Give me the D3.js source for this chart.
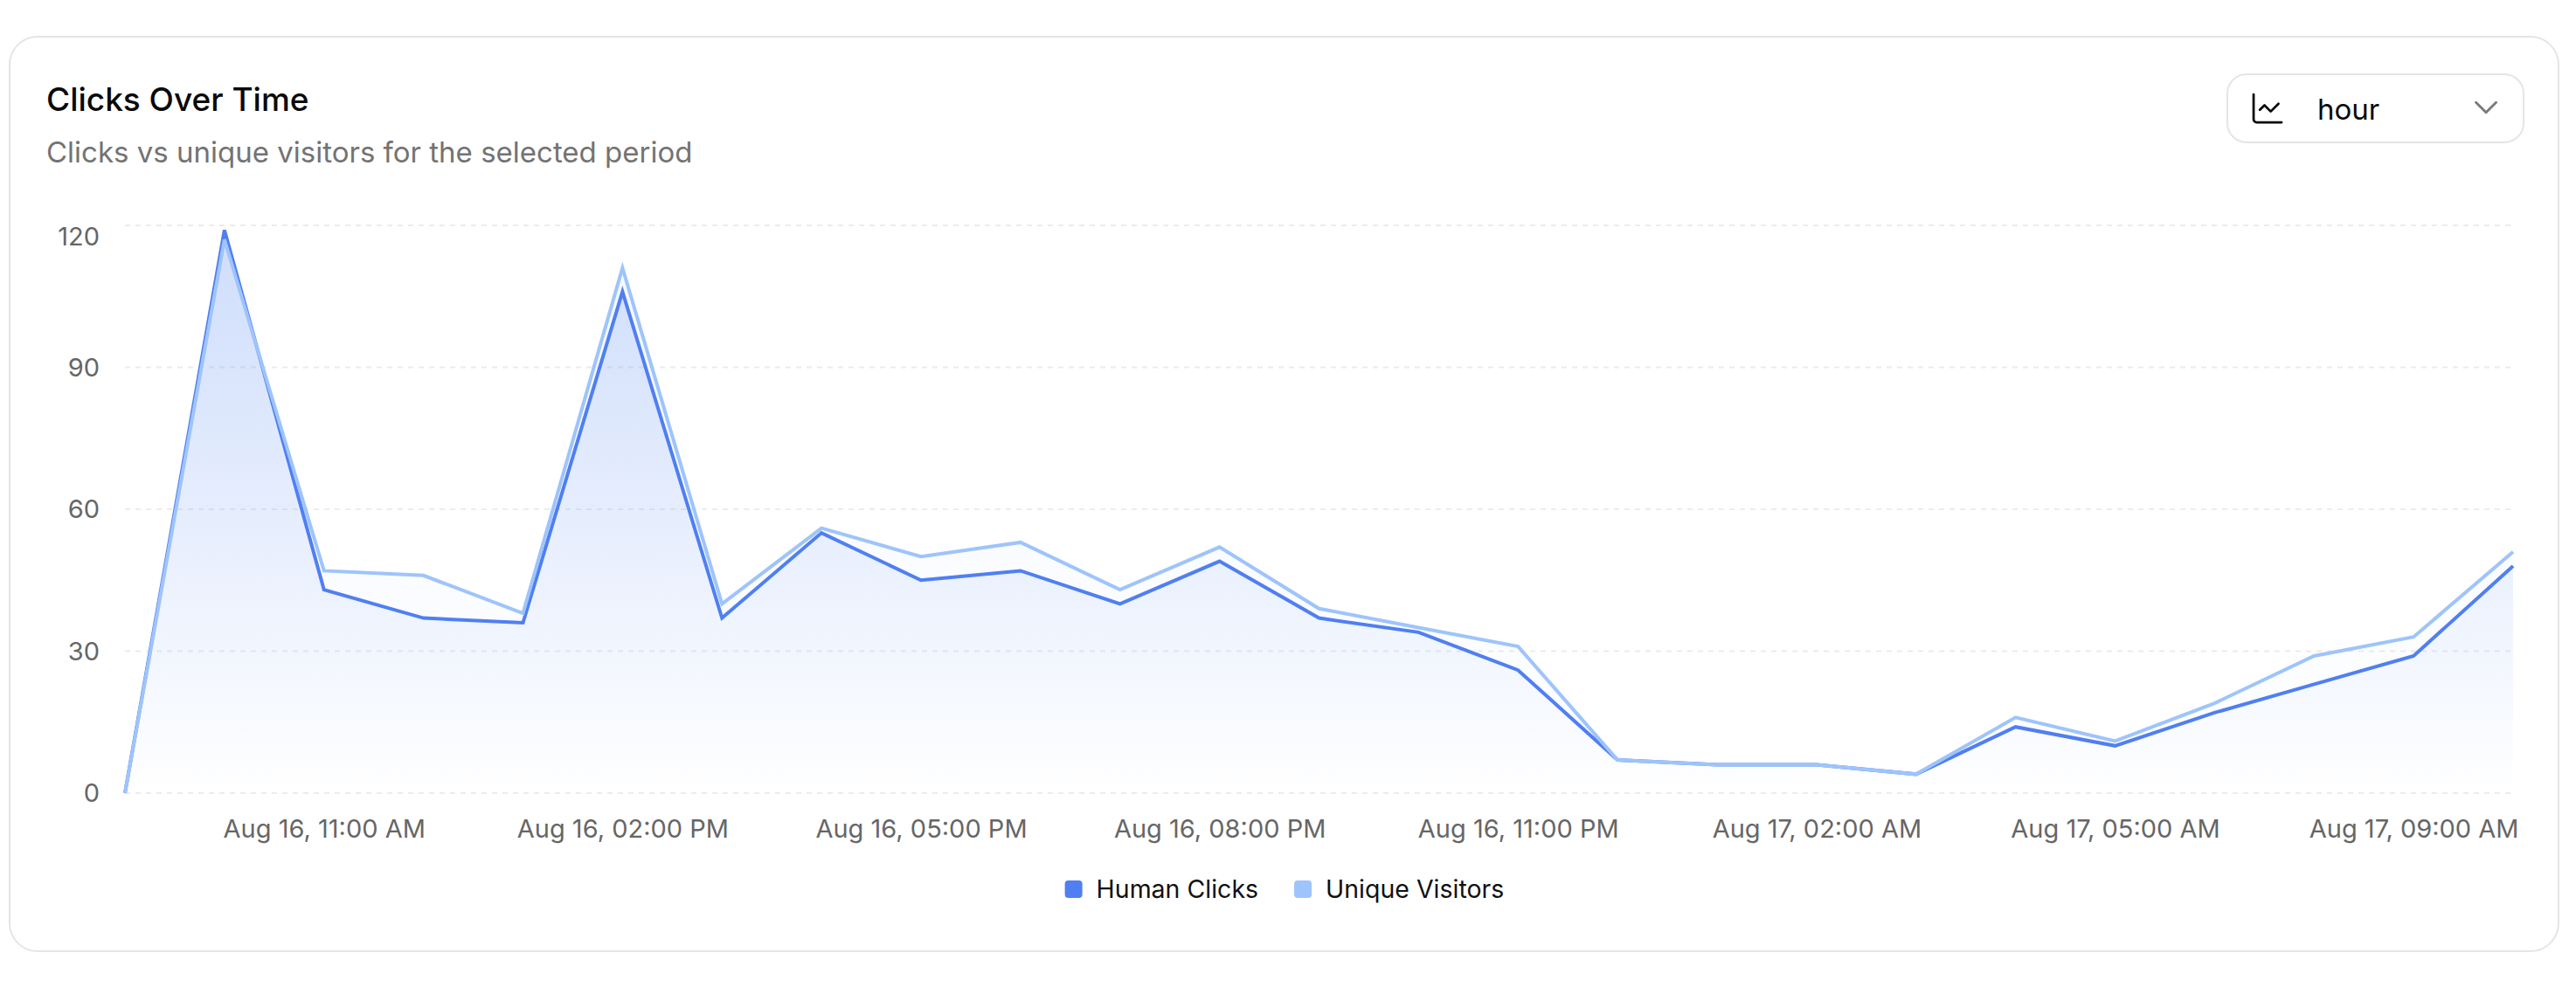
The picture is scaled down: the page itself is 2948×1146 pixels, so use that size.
<!DOCTYPE html>
<html>
<head>
<meta charset="utf-8">
<script src="https://cdn.jsdelivr.net/npm/d3@7"></script>
<style>
  html, body { margin: 0; padding: 0; background: #fff; }
  svg { display: block; font-family: Inter, "Noto Sans", sans-serif; }
</style>
</head>
<body>
<div id="chart"></div>
<script>
// Données (une valeur par heure)
const hours = [
  'Aug 16, 09:00 AM', 'Aug 16, 10:00 AM', 'Aug 16, 11:00 AM', 'Aug 16, 12:00 PM',
  'Aug 16, 01:00 PM', 'Aug 16, 02:00 PM', 'Aug 16, 03:00 PM', 'Aug 16, 04:00 PM',
  'Aug 16, 05:00 PM', 'Aug 16, 06:00 PM', 'Aug 16, 07:00 PM', 'Aug 16, 08:00 PM',
  'Aug 16, 09:00 PM', 'Aug 16, 10:00 PM', 'Aug 16, 11:00 PM', 'Aug 17, 12:00 AM',
  'Aug 17, 01:00 AM', 'Aug 17, 02:00 AM', 'Aug 17, 03:00 AM', 'Aug 17, 04:00 AM',
  'Aug 17, 05:00 AM', 'Aug 17, 06:00 AM', 'Aug 17, 08:00 AM', 'Aug 17, 09:00 AM',
  'Aug 17, 10:00 AM'
];
const humanClicks = [0, 119, 43, 37, 36, 106, 37, 55, 45, 47, 40, 49, 37, 34, 26, 7, 6, 6, 4, 14, 10, 17, 23, 29, 48];
const uniqueVisitors = [0, 117, 47, 46, 38, 111, 40, 56, 50, 53, 43, 52, 39, 35, 31, 7, 6, 6, 4, 16, 11, 19, 29, 33, 51];
const yTicks = [0, 30, 60, 90, 120];
const xTickLabels = [
  'Aug 16, 11:00 AM', 'Aug 16, 02:00 PM', 'Aug 16, 05:00 PM', 'Aug 16, 08:00 PM',
  'Aug 16, 11:00 PM', 'Aug 17, 02:00 AM', 'Aug 17, 05:00 AM', 'Aug 17, 09:00 AM'
];
const seriesNames = ['Human Clicks', 'Unique Visitors'];
const seriesColors = ['#4f7ff1', '#9ec4fb'];

const width = 2948;
const height = 1146;
const plot = { left: 143, right: 2876, top: 258, bottom: 908 };

const svg = d3.select('#chart')
  .append('svg')
  .attr('width', width)
  .attr('height', height)
  .attr('viewBox', [0, 0, width, height]);

// Carte
svg.append('rect')
  .attr('x', 11).attr('y', 42)
  .attr('width', 2917).attr('height', 1047)
  .attr('rx', 32)
  .attr('fill', '#fff')
  .attr('stroke', '#e5e5e5')
  .attr('stroke-width', 2);

// Titre + sous-titre
svg.append('text')
  .attr('x', 53).attr('y', 127)
  .attr('font-size', 37)
  .attr('font-weight', 500)
  .attr('fill', '#0a0a0a')
  .text('Clicks Over Time');

svg.append('text')
  .attr('x', 53).attr('y', 186)
  .attr('font-size', 33)
  .attr('fill', '#737373')
  .text('Clicks vs unique visitors for the selected period');

// Sélecteur "hour"
const select = svg.append('g');
select.append('rect')
  .attr('x', 2549).attr('y', 85)
  .attr('width', 339).attr('height', 78)
  .attr('rx', 22)
  .attr('fill', '#fff')
  .attr('stroke', '#e5e5e5')
  .attr('stroke-width', 2);

select.append('g')
  .attr('transform', 'translate(2573.7,102.7) scale(1.78)')
  .selectAll('path')
  .data(['M3 3v16a2 2 0 0 0 2 2h16', 'm19 9-5 5-4-4-3 3'])
  .enter()
  .append('path')
  .attr('d', d => d)
  .attr('fill', 'none')
  .attr('stroke', '#0a0a0a')
  .attr('stroke-width', 1.55)
  .attr('stroke-linecap', 'round')
  .attr('stroke-linejoin', 'round');

select.append('text')
  .attr('x', 2652).attr('y', 137)
  .attr('font-size', 33)
  .attr('fill', '#0a0a0a')
  .text('hour');

select.append('path')
  .attr('transform', 'translate(2822,100) scale(1.92)')
  .attr('d', 'm6 9 6 6 6-6')
  .attr('fill', 'none')
  .attr('stroke', '#7a7a7a')
  .attr('stroke-width', 1.5)
  .attr('stroke-linecap', 'round')
  .attr('stroke-linejoin', 'round');

// Échelles
const x = d3.scalePoint()
  .domain(hours)
  .range([plot.left, plot.right]);

const y = d3.scaleLinear()
  .domain([0, d3.max(yTicks)])
  .range([plot.bottom, plot.top]);

// Grille pointillée
svg.append('g')
  .selectAll('line')
  .data(yTicks)
  .enter()
  .append('line')
  .attr('x1', plot.left)
  .attr('x2', plot.right)
  .attr('y1', d => y(d))
  .attr('y2', d => y(d))
  .attr('stroke', '#ececec')
  .attr('stroke-width', 2)
  .attr('stroke-dasharray', '6 6');

// Axe Y (le libellé du haut est décalé vers le bas)
const yAxis = d3.axisLeft(y).tickValues(yTicks).tickSize(0).tickPadding(0);
const gy = svg.append('g')
  .attr('transform', `translate(${plot.left - 29},0)`)
  .call(yAxis);
gy.select('.domain').remove();
gy.selectAll('.tick')
  .attr('transform', d => `translate(0,${Math.max(y(d), plot.top + 13)})`);
gy.selectAll('.tick text')
  .attr('x', 0)
  .attr('dy', '0.35em')
  .attr('font-size', 29)
  .attr('font-family', 'Inter, "Noto Sans", sans-serif')
  .attr('fill', '#666');

// Axe X
const xAxis = d3.axisBottom(x).tickValues(xTickLabels).tickSize(0).tickPadding(0);
const gx = svg.append('g')
  .attr('transform', `translate(0,${plot.bottom})`)
  .call(xAxis);
gx.select('.domain').remove();
gx.selectAll('.tick text')
  .attr('y', 51)
  .attr('dy', 0)
  .attr('font-size', 29)
  .attr('font-family', 'Inter, "Noto Sans", sans-serif')
  .attr('fill', '#666');

// Dégradés pour les aires
const defs = svg.append('defs');
const gradientOpacity = [[0.22, 0.0], [0.12, 0.0]];
seriesColors.forEach((color, i) => {
  const grad = defs.append('linearGradient')
    .attr('id', `fill-${i}`)
    .attr('x1', 0).attr('y1', 0)
    .attr('x2', 0).attr('y2', 1);
  grad.append('stop').attr('offset', '5%')
    .attr('stop-color', color).attr('stop-opacity', gradientOpacity[i][0]);
  grad.append('stop').attr('offset', '100%')
    .attr('stop-color', color).attr('stop-opacity', gradientOpacity[i][1]);
});

const series = [humanClicks, uniqueVisitors];

const area = d3.area()
  .x((d, i) => x(hours[i]))
  .y0(y(0))
  .y1(d => y(d));

const line = d3.line()
  .x((d, i) => x(hours[i]))
  .y(d => y(d));

svg.append('g')
  .selectAll('path')
  .data(series)
  .enter()
  .append('path')
  .attr('d', d => area(d))
  .attr('fill', (d, i) => `url(#fill-${i})`);

svg.append('g')
  .selectAll('path')
  .data(series)
  .enter()
  .append('path')
  .attr('d', d => line(d))
  .attr('fill', 'none')
  .attr('stroke', (d, i) => seriesColors[i])
  .attr('stroke-width', 4);

// Légende centrée
const legend = svg.append('g');
const items = legend.selectAll('g')
  .data(seriesNames)
  .enter()
  .append('g');

items.append('rect')
  .attr('width', 20).attr('height', 20)
  .attr('rx', 4)
  .attr('y', 1008)
  .attr('fill', (d, i) => seriesColors[i]);

items.append('text')
  .attr('x', 36)
  .attr('y', 1028)
  .attr('font-size', 28.5)
  .attr('fill', '#111')
  .text(d => d);

let offset = 0;
const offsets = [];
items.each(function() {
  offsets.push(offset);
  const w = 36 + this.querySelector('text').getComputedTextLength();
  offset += w + 41;
});
const legendWidth = offset - 41;
const legendStart = 1470 - legendWidth / 2;
items.attr('transform', (d, i) => `translate(${legendStart + offsets[i]},0)`);
</script>
</body>
</html>
